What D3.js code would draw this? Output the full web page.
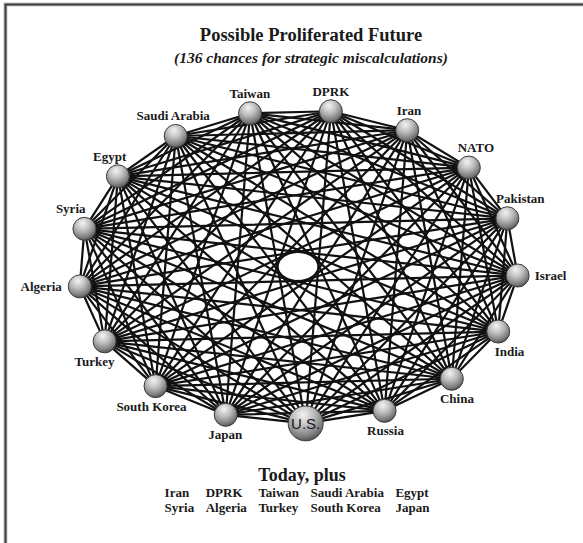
<!DOCTYPE html>
<html>
<head>
<meta charset="utf-8">
<script src="https://cdn.jsdelivr.net/npm/d3@7"></script>
<style>
  html, body { margin: 0; padding: 0; background: #fff; }
  svg { display: block; }
</style>
</head>
<body>
<svg id="chart" width="583" height="543"></svg>
<script>
// ---- data ----
const nodes = ["U.S.", "Russia", "China", "India", "Israel", "Pakistan", "NATO", "Iran",
               "DPRK", "Taiwan", "Saudi Arabia", "Egypt", "Syria", "Algeria", "Turkey",
               "South Korea", "Japan"];
const hubNode = "U.S.";
const title = "Possible Proliferated Future";
const subtitle = "(136 chances for strategic miscalculations)";
const footerTitle = "Today, plus";
const footerRow1 = ["Iran", "DPRK", "Taiwan", "Saudi Arabia", "Egypt"];
const footerRow2 = ["Syria", "Algeria", "Turkey", "South Korea", "Japan"];

// ---- layout ----
const W = 583, H = 543;
const cx = 298, cy = 266.5, rx = 220, ry = 157;
const startDeg = 88;
const serif = "'Liberation Serif', 'Times New Roman', serif";

const svg = d3.select("#chart");

// frame (left + top rule)
const frame = svg.append("g");
frame.append("path").attr("d", `M5.5,${H} V4.5 H${W}`)
  .attr("fill", "none").attr("stroke", "#c4c4c4").attr("stroke-width", 4);
frame.append("path").attr("d", `M5.5,${H} V4.5 H${W}`)
  .attr("fill", "none").attr("stroke", "#3a3a3a").attr("stroke-width", 2);

// gradient for spheres
const defs = svg.append("defs");
const grad = defs.append("radialGradient").attr("id", "sphere")
  .attr("cx", "42%").attr("cy", "30%").attr("r", "70%").attr("fx", "42%").attr("fy", "25%");
grad.append("stop").attr("offset", "0%").attr("stop-color", "#f4f4f4");
grad.append("stop").attr("offset", "45%").attr("stop-color", "#bdbdbd");
grad.append("stop").attr("offset", "85%").attr("stop-color", "#7a7a7a");
grad.append("stop").attr("offset", "100%").attr("stop-color", "#555");

// angular scale: index -> angle (radians)
const angle = d3.scaleLinear()
  .domain([0, nodes.length])
  .range([startDeg * Math.PI / 180, (startDeg - 360) * Math.PI / 180]);

const pts = nodes.map((name, i) => {
  const a = angle(i);
  return { name, a, x: cx + rx * Math.cos(a), y: cy + ry * Math.sin(a), hub: name === hubNode };
});

// all pairwise links
const links = [];
for (let i = 0; i < pts.length; i++)
  for (let j = i + 1; j < pts.length; j++) links.push([pts[i], pts[j]]);

svg.append("g").selectAll("line").data(links).join("line")
  .attr("x1", d => d[0].x).attr("y1", d => d[0].y)
  .attr("x2", d => d[1].x).attr("y2", d => d[1].y)
  .attr("stroke", "#111").attr("stroke-width", 2.2).attr("stroke-linecap", "round");

// nodes
const rScale = d => d.hub ? 17.5 : 11.5;
svg.append("g").selectAll("circle").data(pts).join("circle")
  .attr("cx", d => d.x).attr("cy", d => d.y).attr("r", rScale)
  .attr("fill", "url(#sphere)").attr("stroke", "#3c3c3c").attr("stroke-width", 1);

// hub label inside
svg.append("text").datum(pts.find(p => p.hub))
  .attr("x", d => d.x).attr("y", d => d.y + 5.5)
  .attr("text-anchor", "middle")
  .attr("font-family", "'Liberation Sans', Arial, sans-serif")
  .attr("font-size", 15).attr("fill", "#15151f")
  .text(d => d.name);

// other labels
svg.append("g").selectAll("text").data(pts.filter(p => !p.hub)).join("text")
  .each(function (d) {
    const c = Math.cos(d.a), s = Math.sin(d.a);
    const t = d3.select(this);
    if (Math.abs(s) < 0.15) {
      t.attr("x", d.x + (c > 0 ? 17 : -18)).attr("y", d.y + 4.5)
       .attr("text-anchor", c > 0 ? "start" : "end");
    } else {
      let dx = 15 * Math.pow(c, 3);
      t.attr("x", d.x + dx).attr("y", d.y + (s > 0 ? 20 : -20) + 4.5)
       .attr("text-anchor", "middle");
    }
  })
  .attr("font-family", serif).attr("font-weight", "bold")
  .attr("font-size", 13).attr("fill", "#1a1a1a")
  .text(d => d.name);

// titles
svg.append("text").attr("x", 311).attr("y", 41).attr("text-anchor", "middle")
  .attr("font-family", serif).attr("font-weight", "bold").attr("font-size", 18.5)
  .attr("fill", "#1a1a1a").text(title);
svg.append("text").attr("x", 311).attr("y", 63).attr("text-anchor", "middle")
  .attr("font-family", serif).attr("font-weight", "bold").attr("font-style", "italic")
  .attr("font-size", 15.5).attr("fill", "#1a1a1a").text(subtitle);

// footer
svg.append("text").attr("x", 302).attr("y", 481).attr("text-anchor", "middle")
  .attr("font-family", serif).attr("font-weight", "bold").attr("font-size", 18)
  .attr("fill", "#1a1a1a").text(footerTitle);

const footer = svg.append("g")
  .attr("font-family", serif).attr("font-weight", "bold").attr("font-size", 13)
  .attr("fill", "#1a1a1a");
const rows = [footerRow1, footerRow2];
const rowY = [497, 512];
const measured = rows.map((row, r) => row.map(w => {
  const t = footer.append("text").attr("y", rowY[r]).text(w);
  return { node: t, w: t.node().getComputedTextLength() };
}));
const gap = 11.5;
const colW = footerRow1.map((_, c) => d3.max(measured, row => row[c].w));
const totalW = d3.sum(colW) + gap * (colW.length - 1);
let x0 = 297 - totalW / 2;
colW.forEach((w, c) => {
  measured.forEach(row => row[c].node.attr("x", x0));
  x0 += w + gap;
});
</script>
</body>
</html>
